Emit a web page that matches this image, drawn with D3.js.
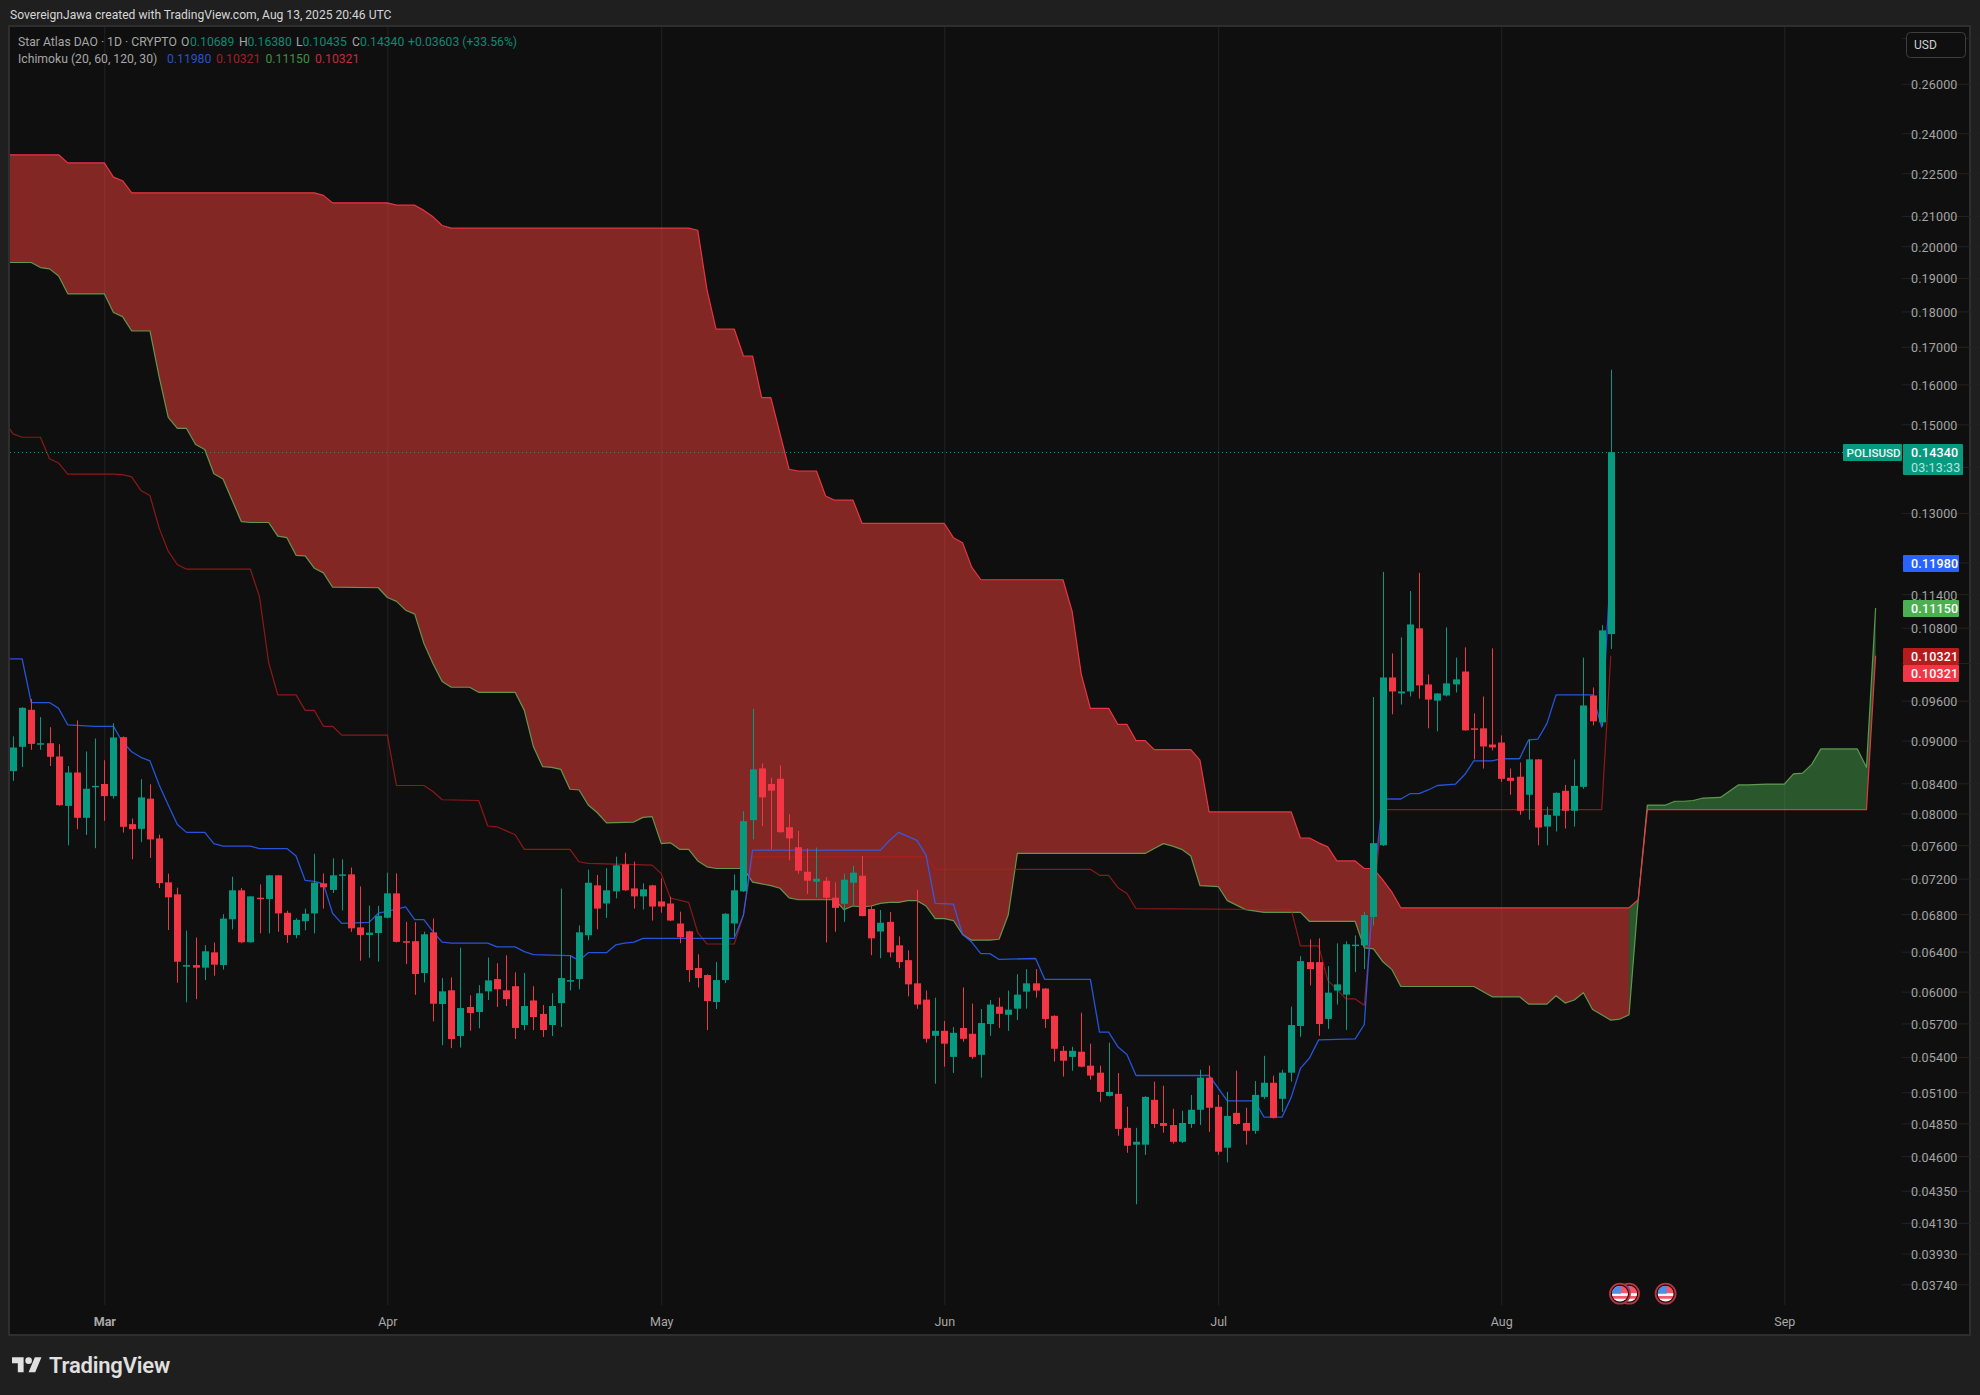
<!DOCTYPE html>
<html>
<head>
<meta charset="utf-8">
<title>POLISUSD</title>
<script src="https://cdn.jsdelivr.net/npm/d3@7"></script>
<style>
  html, body { margin: 0; padding: 0; background: #1f1f1f; }
  svg { display: block; }
  text { font-family: Roboto, sans-serif; }
</style>
</head>
<body>
<svg id="chart" width="1980" height="1395"></svg>
<script>
// candle day 0 is 1 Mar 2025, the first candle is 10 days earlier
var firstCandleDay = -10;

var opens = [
  .08567,.08910,.09459,.08952,.08962,.08772,.08099,.08548,.07945,.08353,
  .08391,.08228,.09050,.07864,.07804,.08194,.07685,.07158,.07021,.06247,
  .06263,.06237,.06393,.06263,.06744,.07067,.06498,.06983,.06968,.07240,
  .06815,.06575,.06723,.06808,.07147,.07071,.07244,.07251,.06656,.06575,
  .06596,.06761,.07032,.06509,.06509,.06183,.06603,.05881,.06013,.05585,
  .05853,.05806,.06003,.06123,.06013,.06053,.05685,.05915,.05788,.05685,
  .05890,.06103,.06123,.06572,.07124,.06918,.07055,.07370,.07089,.06998,
  .07124,.06941,.06918,.06698,.06614,.06233,.06163,.05900,.06113,.06698,
  .07055,.07915,.08605,.08391,.08462,.07825,.07576,.07282,.07166,.07177,
  .06983,.06914,.07154,.07235,.06857,.06612,.06716,.06466,.06313,.06081,
  .05923,.05587,.05632,.05400,.05658,.05605,.05418,.05694,.05856,.05780,
  .05837,.06000,.06081,.06030,.05770,.05453,.05400,.05445,.05324,.05264,
  .05070,.05087,.04815,.04686,.04686,.05038,.04853,.04837,.04708,.04845,
  .04958,.05222,.04982,.04663,.04933,.04853,.04792,.05062,.05179,.05046,
  .05264,.05676,.06293,.06293,.05741,.06010,.05971,.06466,.06466,.06769,
  .07600,.09966,.09712,.09743,.10789,.09855,.09600,.09680,.09855,.10062,
  .09180,.09180,.08943,.08972,.08476,.08490,.08246,.08731,.07833,.07971,
  .08299,.08035,.08352,.09680,.09270,.10689
];
var highs = [
  .09061,.09499,.09626,.09348,.09197,.08948,.08638,.09298,.08843,.09030,
  .08719,.09257,.09061,.07936,.08457,.08387,.07732,.07259,.07097,.06621,
  .06547,.06467,.06495,.06800,.07224,.07093,.07000,.07135,.07245,.07245,
  .06838,.06754,.06861,.07497,.07263,.07442,.07430,.07331,.07112,.06895,
  .06891,.07271,.07263,.06716,.06712,.06610,.06751,.06133,.06140,.06442,
  .05966,.06063,.06340,.06283,.06363,.06190,.06183,.06053,.05872,.05984,
  .07086,.06363,.06677,.07307,.07244,.07323,.07461,.07509,.07402,.07147,
  .07130,.07204,.06994,.06827,.06620,.06373,.06170,.06293,.06811,.07251,
  .08030,.09474,.08676,.08476,.08648,.07991,.07779,.07561,.07572,.07220,
  .07158,.07259,.07353,.07470,.06891,.06846,.06823,.06560,.06414,.07074,
  .06010,.05942,.05722,.05667,.06040,.05885,.05834,.05920,.05942,.06010,
  .06171,.06222,.06222,.06035,.05775,.05495,.05489,.05799,.05516,.05324,
  .05525,.05261,.04982,.04815,.05067,.05188,.05154,.04966,.04950,.05078,
  .05289,.05324,.05078,.05103,.05281,.04974,.05193,.05409,.05239,.05289,
  .05856,.06353,.06529,.06539,.06252,.06487,.06508,.06571,.06823,.09656,
  .11819,.10360,.10634,.11459,.11800,.10014,.09717,.10806,.10291,.10463,
  .09405,.09664,.10445,.09075,.08603,.08688,.09015,.08736,.08088,.08277,
  .08378,.08731,.10291,.09807,.10846,.16380
];
var lows = [
  .08434,.08624,.08867,.08867,.08638,.08100,.07600,.07800,.07728,.07564,
  .07906,.08194,.07758,.07430,.07638,.07446,.07093,.06628,.06087,.05897,
  .05928,.06113,.06157,.06217,.06635,.06488,.06495,.06593,.06593,.06610,
  .06491,.06540,.06625,.06593,.06861,.07036,.06842,.06607,.06307,.06337,
  .06297,.06754,.06495,.06273,.05969,.06090,.05719,.05503,.05476,.05482,
  .05633,.05655,.05919,.05853,.05862,.05558,.05639,.05639,.05576,.05585,
  .05667,.06013,.06023,.06519,.06635,.06758,.06975,.07060,.06861,.06850,
  .06730,.06815,.06725,.06488,.06093,.06040,.05639,.05834,.06083,.06558,
  .07050,.07672,.07838,.07548,.07755,.07418,.07259,.07025,.06987,.06497,
  .06609,.06716,.06903,.06775,.06363,.06333,.06343,.06232,.05955,.05837,
  .05525,.05171,.05315,.05261,.05534,.05383,.05222,.05587,.05658,.05632,
  .05732,.05837,.05942,.05658,.05358,.05231,.05281,.05310,.05205,.05022,
  .05065,.04754,.04625,.04256,.04610,.04815,.04777,.04694,.04698,.04815,
  .04837,.04784,.04610,.04554,.04840,.04686,.04769,.05046,.04888,.04941,
  .05188,.05578,.06061,.05587,.05649,.05876,.05640,.06192,.06222,.06675,
  .07590,.09390,.09540,.09664,.09632,.09180,.09135,.09664,.09727,.09145,
  .08731,.08603,.08858,.08419,.08246,.07983,.07921,.07600,.07600,.07771,
  .07808,.07833,.08326,.09225,.09210,.10435
];
var closes = [
  .08900,.09489,.08952,.08962,.08767,.08108,.08548,.07945,.08327,.08366,
  .08228,.09045,.07830,.07800,.08211,.07672,.07150,.06987,.06297,.06263,
  .06237,.06404,.06267,.06751,.07067,.06498,.06998,.06975,.07240,.06808,
  .06575,.06737,.06804,.07154,.07101,.07240,.07251,.06646,.06575,.06600,
  .06782,.07032,.06502,.06498,.06173,.06582,.05884,.06003,.05558,.05843,
  .05797,.05984,.06110,.06023,.05928,.05658,.05862,.05759,.05639,.05862,
  .06133,.06113,.06603,.07154,.06861,.07067,.07358,.07067,.06998,.07078,
  .06884,.06884,.06730,.06551,.06213,.06133,.05909,.06113,.06804,.07067,
  .07902,.08591,.08211,.08301,.07762,.07685,.07294,.07177,.07200,.06983,
  .06869,.07189,.07271,.06779,.06539,.06706,.06393,.06293,.06071,.05876,
  .05560,.05632,.05516,.05614,.05560,.05400,.05703,.05876,.05789,.05828,
  .05971,.06081,.06010,.05741,.05471,.05367,.05453,.05315,.05239,.05103,
  .05103,.04807,.04678,.04708,.05062,.04845,.04830,.04708,.04853,.04958,
  .05222,.04974,.04633,.04909,.04845,.04792,.05078,.05179,.04893,.05264,
  .05685,.06303,.06222,.05694,.05990,.06071,.06477,.06473,.06790,.07626,
  .09966,.09743,.09743,.10857,.09839,.09616,.09712,.09871,.09935,.09150,
  .09165,.08915,.08901,.08461,.08433,.08035,.08731,.07821,.07983,.08272,
  .08035,.08365,.09525,.09285,.10754,.14340
];

// ichimoku lines as [day, price] where the line changes direction
var conversionLine = [[-11,.1027],[-9,.1027],[-8,.0957],[-6,.0957],[-5,.0948],[-4,.0923],[-1,.0921],[1,.0921],[2,.0898],[3,.0884],[4,.0876],[5,.0871],[6,.0838],[7,.0811],[8,.0786],[9,.0776],[11,.0776],[12,.0762],[13,.0759],[16,.0759],[17,.0756],[20,.0756],[21,.0747],[22,.0718],[23,.0717],[24,.0714],[25,.0681],[26,.0670],[29,.0671],[30,.0681],[31,.0683],[33,.0688],[34,.0674],[35,.0674],[36,.0661],[37,.0650],[38,.0649],[42,.0649],[43,.0645],[45,.0645],[46,.0640],[47,.0637],[51,.0636],[52,.0631],[53,.0639],[55,.0639],[56,.0647],[57,.0649],[58,.0650],[59,.0654],[69,.0654],[70,.0679],[71,.0754],[85,.0754],[86,.0766],[87,.0776],[88,.0771],[89,.0766],[90,.0748],[91,.0692],[93,.0691],[94,.0658],[95,.0650],[96,.0638],[97,.0638],[98,.0632],[102,.0633],[103,.0612],[108,.0612],[109,.0562],[110,.0562],[111,.0549],[112,.0542],[113,.0524],[121,.0524],[123,.0503],[126,.0503],[127,.0490],[129,.0490],[130,.0506],[131,.0530],[132,.0539],[133,.0555],[137,.0556],[138,.0569],[139,.0711],[140,.0819],[142,.0819],[143,.0826],[144,.0826],[145,.0831],[146,.0837],[148,.0839],[149,.0852],[150,.0871],[152,.0871],[153,.0874],[155,.0874],[156,.0901],[157,.0902],[158,.0925],[159,.0969],[163,.0969],[164,.0920],[165,.1198]];
var baseLine = [[-11,.1510],[-10,.1477],[-9,.1469],[-7,.1469],[-6,.1419],[-5,.1409],[-4,.1384],[1,.1384],[2,.1383],[3,.1378],[4,.1348],[5,.1337],[6,.1269],[7,.1222],[8,.1196],[9,.1187],[16,.1187],[17,.1135],[18,.1021],[19,.0969],[21,.0969],[22,.0945],[23,.0945],[24,.0921],[25,.0921],[26,.0908],[31,.0908],[32,.0837],[35,.0837],[36,.0829],[37,.0818],[41,.0817],[42,.0784],[43,.0783],[45,.0773],[46,.0755],[51,.0755],[52,.0740],[53,.0738],[60,.0736],[61,.0726],[62,.0698],[64,.0693],[65,.0660],[66,.0648],[69,.0648],[70,.0679],[71,.0746],[90,.0746],[91,.0731],[108,.0731],[109,.0724],[110,.0724],[111,.0710],[112,.0703],[113,.0686],[130,.0685],[131,.0646],[133,.0646],[134,.0611],[135,.0602],[136,.0593],[137,.0593],[138,.0587],[139,.0696],[140,.0805],[164,.0805],[165,.10321]];
var leadLine1 = [[-11,.1948],[-8,.1948],[-7,.1932],[-6,.1928],[-5,.1906],[-4,.1852],[0,.1852],[1,.1797],[2,.1785],[3,.1744],[5,.1744],[6,.1620],[7,.1517],[8,.1490],[9,.1490],[10,.1452],[11,.1440],[12,.1385],[13,.1373],[14,.1327],[15,.1282],[16,.1280],[18,.1280],[19,.1252],[20,.1249],[21,.1214],[22,.1213],[23,.1189],[24,.1180],[25,.1153],[30,.1152],[31,.1134],[32,.1127],[33,.1111],[34,.1104],[35,.1053],[36,.1019],[37,.0990],[38,.0981],[40,.0981],[41,.0973],[45,.0973],[46,.0945],[47,.0891],[48,.0863],[49,.0862],[50,.0859],[51,.0832],[52,.0831],[53,.0811],[54,.0801],[55,.0788],[58,.0789],[59,.0795],[60,.0796],[61,.0762],[62,.0763],[63,.0755],[64,.0755],[65,.0741],[66,.0734],[67,.0732],[70,.0732],[71,.0716],[72,.0714],[73,.0712],[74,.0709],[75,.0698],[76,.0696],[80,.0696],[81,.0685],[82,.0689],[83,.0688],[84,.0689],[85,.0692],[86,.0693],[87,.0693],[88,.0695],[89,.0695],[90,.0689],[91,.0675],[92,.0675],[93,.0673],[94,.0658],[95,.0652],[97,.0652],[98,.0653],[99,.0679],[100,.0750],[114,.0750],[115,.0756],[116,.0762],[117,.0759],[118,.0755],[119,.0747],[120,.0712],[122,.0711],[123,.0695],[124,.0690],[125,.0685],[127,.0682],[131,.0682],[132,.0672],[137,.0672],[138,.0644],[139,.0643],[140,.0630],[141,.0622],[142,.0605],[150,.0605],[152,.0595],[155,.0595],[156,.0588],[158,.0588],[159,.0596],[160,.0589],[161,.0592],[162,.0599],[163,.0583],[165,.0573],[166,.0574],[167,.0578],[168,.0696],[169,.0811],[171,.0811],[172,.0816],[173,.0816],[174,.0817],[175,.0820],[177,.0821],[179,.0838],[180,.0838],[182,.0839],[184,.0839],[185,.0853],[186,.0854],[187,.0866],[188,.0888],[192,.0888],[193,.0862],[194,.1115]];
var leadLine2 = [[-11,.2318],[-5,.2318],[-4,.2288],[0,.2288],[1,.2236],[2,.2223],[3,.2180],[23,.2180],[24,.2171],[25,.2145],[31,.2145],[32,.2137],[34,.2137],[35,.2119],[36,.2097],[37,.2068],[38,.2059],[64,.2059],[65,.2052],[66,.1865],[67,.1749],[69,.1749],[70,.1675],[71,.1675],[72,.1566],[73,.1566],[74,.1478],[75,.1395],[76,.1391],[78,.1391],[79,.1336],[80,.1327],[82,.1327],[83,.1278],[92,.1278],[93,.1249],[94,.1239],[95,.1191],[96,.1167],[105,.1167],[106,.1109],[107,.1002],[108,.0948],[110,.0948],[111,.0924],[112,.0924],[113,.0900],[114,.0900],[115,.0887],[119,.0887],[120,.0872],[121,.0802],[130,.0802],[131,.0769],[132,.0769],[133,.0763],[134,.0758],[135,.0741],[137,.0741],[138,.0732],[139,.0732],[140,.0719],[141,.0705],[142,.0687],[167,.0687],[168,.0696],[169,.0805],[193,.0805],[194,.10321]];
var cloudFlipDay = 167;

var gridPrices = [.28,.26,.24,.225,.21,.20,.19,.18,.17,.16,.15,.14,.13,.12,.114,.108,.102,.096,.09,.084,.08,.076,.072,.068,.064,.06,.057,.054,.051,.0485,.046,.0435,.0413,.0393,.0374];
var labelPrices = [.26,.24,.225,.21,.20,.19,.18,.17,.16,.15,.13,.114,.108,.096,.09,.084,.08,.076,.072,.068,.064,.06,.057,.054,.051,.0485,.046,.0435,.0413,.0393,.0374];
var monthTicks = [new Date(Date.UTC(2025,2,1)),new Date(Date.UTC(2025,3,1)),new Date(Date.UTC(2025,4,1)),new Date(Date.UTC(2025,5,1)),new Date(Date.UTC(2025,6,1)),new Date(Date.UTC(2025,7,1)),new Date(Date.UTC(2025,8,1))];
var eventDays = [167,166,171];
var lastClose = .1434, convLast = .1198, baseLast = .10321, lead1Last = .1115, lead2Last = .10321;

var pane = {left: 10, right: 1969, top: 27, bottom: 1334, gridRight: 1902, gridBottom: 1305};

var svg = d3.select("#chart");
var xTime = d3.scaleUtc().domain([monthTicks[0], monthTicks[6]]).range([104.3, 1784.3]);
var yScale = d3.scaleLog().domain([.15, .0374]).range([424.3, 1284.3]);
function xDay(d) { return xTime(d3.utcDay.offset(monthTicks[0], d)); }

svg.append("rect").attr("width",1980).attr("height",1395).attr("fill","#1f1f1f");
svg.append("rect").attr("x",pane.left-1).attr("y",pane.top-1).attr("width",pane.right-pane.left+2).attr("height",pane.bottom-pane.top+2)
    .attr("fill","#0f0f0f").attr("stroke","#2e2e2e").attr("stroke-width",2);

svg.append("defs").append("clipPath").attr("id","paneClip").append("rect")
    .attr("x",pane.left).attr("y",pane.top).attr("width",pane.gridRight-pane.left).attr("height",pane.bottom-pane.top);

// grid
var hGrid = d3.axisLeft(yScale).tickValues(gridPrices).tickSize(-(pane.gridRight-pane.left)).tickFormat("");
svg.append("g").attr("transform","translate("+pane.gridRight+",0)").call(hGrid)
    .call(function(g){ g.select(".domain").remove(); g.selectAll("line").attr("stroke","#232323"); });
var vGrid = d3.axisBottom(xTime).tickValues(monthTicks).tickSize(-(pane.gridBottom-pane.top)).tickFormat("");
svg.append("g").attr("transform","translate(0,"+pane.gridBottom+")").call(vGrid)
    .call(function(g){ g.select(".domain").remove(); g.selectAll("line").attr("stroke","#232323"); });

var plot = svg.append("g").attr("clip-path","url(#paneClip)");
var line = d3.line().x(function(d){return xDay(d[0]);}).y(function(d){return yScale(d[1]);});

// cloud, lead 1 on one side and lead 2 coming back on the other
function cloudPart(test) {
    return leadLine1.filter(test).concat(leadLine2.filter(test).reverse());
}
plot.append("path").attr("d", line(cloudPart(function(d){return d[0] <= cloudFlipDay;})) + "Z")
    .attr("fill","#f5403a").attr("fill-opacity",.5);
plot.append("path").attr("d", line(cloudPart(function(d){return d[0] >= cloudFlipDay;})) + "Z")
    .attr("fill","#4caf50").attr("fill-opacity",.45);

function drawLine(data, color, width, op) {
    plot.append("path").attr("d", line(data)).attr("fill","none").attr("stroke",color)
        .attr("stroke-width",width).attr("stroke-opacity",op).attr("stroke-linejoin","round");
}
drawLine(leadLine1, "#6bb35a", 1.2, .8);
drawLine(leadLine2, "#f23645", 1.2, .95);
drawLine(baseLine, "#b71c1c", 1.2, .75);
drawLine(conversionLine, "#2962ff", 1.3, .85);

// last price line
plot.append("line").attr("x1",pane.left).attr("x2",1843).attr("y1",Math.round(yScale(lastClose))+.5).attr("y2",Math.round(yScale(lastClose))+.5)
    .attr("stroke","#089981").attr("stroke-dasharray","1,3");

// candles
var candles = opens.map(function(o,i){
    return {day: firstCandleDay+i, o: o, h: highs[i], l: lows[i], c: closes[i]};
});
var upColor = "#089981", downColor = "#f23645";
var cg = plot.append("g").selectAll("g").data(candles).join("g");
cg.append("line")
    .attr("x1",function(d){return Math.round(xDay(d.day))+.5;})
    .attr("x2",function(d){return Math.round(xDay(d.day))+.5;})
    .attr("y1",function(d){return yScale(d.h);})
    .attr("y2",function(d){return yScale(d.l);})
    .attr("stroke",function(d){return d.c>=d.o?upColor:downColor;});
cg.append("rect")
    .attr("x",function(d){return Math.round(xDay(d.day))-3;})
    .attr("width",7)
    .attr("y",function(d){return yScale(Math.max(d.o,d.c));})
    .attr("height",function(d){return Math.max(1.5,Math.abs(yScale(d.o)-yScale(d.c)));})
    .attr("fill",function(d){return d.c>=d.o?upColor:downColor;});

// event flags
var flags = svg.append("g").selectAll("g").data(eventDays).join("g")
    .attr("transform",function(d){return "translate("+xDay(d)+",1293.7)";});
flags.append("circle").attr("r",10).attr("fill","#0f0f0f").attr("stroke","#b8323f").attr("stroke-width",1.8);
flags.each(function(d,i){
    var id = "flagClip"+i, g = d3.select(this);
    g.append("clipPath").attr("id",id).append("circle").attr("r",8);
    var f = g.append("g").attr("clip-path","url(#"+id+")");
    f.append("rect").attr("x",-8).attr("y",-8).attr("width",16).attr("height",16).attr("fill","#f4566a");
    f.append("rect").attr("x",-8).attr("y",-.5).attr("width",16).attr("height",2.8).attr("fill","#f5f5f5");
    f.append("rect").attr("x",-8).attr("y",5).attr("width",16).attr("height",2.8).attr("fill","#f5f5f5");
    f.append("rect").attr("x",-8).attr("y",-8).attr("width",9).attr("height",8).attr("fill","#4a90e8");
});

// price axis
var yLabels = d3.axisRight(yScale).tickValues(labelPrices).tickSize(0).tickPadding(0).tickFormat(d3.format(".5f"));
svg.append("g").attr("transform","translate(1911,1)").call(yLabels)
    .call(function(g){
        g.select(".domain").remove();
        g.selectAll("text").attr("fill","#a3a3a3").attr("font-size",12.5).attr("font-family","Roboto, sans-serif").attr("letter-spacing",.15);
    });

// time axis
var xLabels = d3.axisBottom(xTime).tickValues(monthTicks).tickSize(0).tickPadding(0).tickFormat(d3.utcFormat("%b"));
svg.append("g").attr("transform","translate(0,1317)").call(xLabels)
    .call(function(g){
        g.select(".domain").remove();
        g.selectAll("text").attr("fill","#a8a8a8").attr("font-size",12.5).attr("font-family","Roboto, sans-serif");
        g.select("text").attr("font-weight",700);
    });

// price tags
function tag(x, y, w, h, color) {
    svg.append("rect").attr("x",x).attr("y",y).attr("width",w).attr("height",h).attr("fill",color).attr("rx",1);
}
function tagText(x, y, str, color, weight, size, spacing) {
    svg.append("text").attr("x",x).attr("y",y).attr("fill",color).attr("font-size",size || 12.5)
        .attr("font-weight",weight).attr("letter-spacing",spacing === undefined ? .15 : spacing).text(str);
}
var lastY = Math.round(yScale(lastClose));
tag(1843,lastY-8,59,17,"#089981");
tagText(1846.5,lastY+5,"POLISUSD","#e8f8f4",500,11.6,0);
tag(1903,lastY-8,60,31,"#089981");
tagText(1911,lastY+5,d3.format(".5f")(lastClose),"#ffffff",500);
tagText(1911,lastY+19.5,"03:13:33","#b5e6db",400);

var tags = [
    {v: convLast, color: "#2962ff", shift: 0},
    {v: lead1Last, color: "#4caf50", shift: 0},
    {v: baseLast, color: "#b71c1c", shift: 0},
    {v: lead2Last, color: "#f23645", shift: 17}
];
tags.forEach(function(t){
    var cy = Math.round(yScale(t.v)) + t.shift;
    tag(1903,cy-8,56,17,t.color);
    tagText(1911,cy+5,d3.format(".5f")(t.v),"#ffffff",500);
});

// USD button
svg.append("rect").attr("x",1906.5).attr("y",32.5).attr("width",59).attr("height",25).attr("rx",4)
    .attr("fill","#0f0f0f").attr("stroke","#3d3d3d");
svg.append("text").attr("x",1914).attr("y",49).attr("fill","#d0d0d0").attr("font-size",12).text("USD");

// header and legend
svg.append("text").attr("x",10).attr("y",19).attr("fill","#d6d6d6").attr("font-size",12.1)
    .text("SovereignJawa created with TradingView.com, Aug 13, 2025 20:46 UTC");

function legend(x, y, str, color) {
    svg.append("text").attr("x",x).attr("y",y).attr("fill",color).attr("font-size",12.2).text(str);
}
var grey = "#a6a6a6", teal = "#0b8a75";
legend(18,46,"Star Atlas DAO · 1D · CRYPTO",grey);
legend(181,46,"O",grey); legend(190,46,"0.10689",teal);
legend(239,46,"H",grey); legend(247.5,46,"0.16380",teal);
legend(296,46,"L",grey); legend(302.5,46,"0.10435",teal);
legend(352,46,"C",grey); legend(360,46,"0.14340",teal);
legend(408,46,"+0.03603 (+33.56%)",teal);
legend(18,63,"Ichimoku (20, 60, 120, 30)",grey);
legend(167,63,"0.11980","#2a52c4");
legend(216,63,"0.10321","#9c2228");
legend(265.5,63,"0.11150","#3f8f45");
legend(315,63,"0.10321","#c22c3a");

// TradingView logo
var logo = svg.append("g").attr("transform","translate(12,1354) scale(.83)").attr("fill","#e0e0e0");
logo.append("path").attr("d","M14 22H7V11H0V4h14v18zM28 22h-8l7.5-18h8L28 22z");
logo.append("circle").attr("cx",20).attr("cy",8).attr("r",4);
svg.append("text").attr("x",49).attr("y",1373).attr("fill","#e0e0e0").attr("font-size",22)
    .attr("font-family","Inter, sans-serif").attr("font-weight",600).attr("letter-spacing",-.2).text("TradingView");
</script>
</body>
</html>
